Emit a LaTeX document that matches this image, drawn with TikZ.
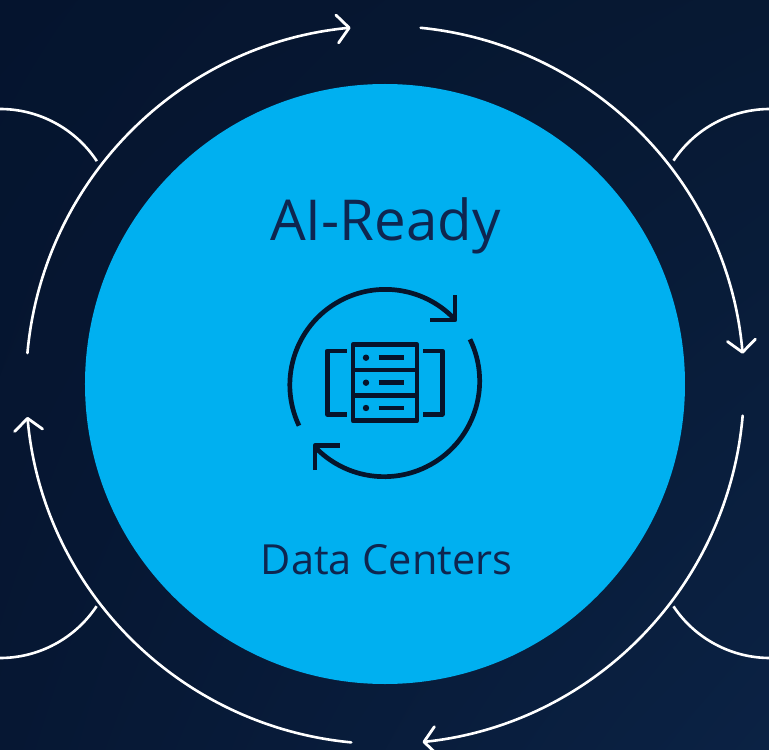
\documentclass[tikz,border=0pt]{standalone}
\usepackage{fontspec}
\setmainfont{Open Sans}
\usetikzlibrary{arrows.meta,shadings}
\definecolor{bgUL}{HTML}{05142E}
\definecolor{bgUR}{HTML}{071933}
\definecolor{bgLL}{HTML}{061733}
\definecolor{bgLR}{HTML}{0B2244}
\definecolor{hub}{HTML}{00B0F0}
\definecolor{hubtext}{HTML}{0E2650}
\definecolor{icon}{HTML}{06142B}
\tikzset{
  ring/.style={draw=white,line width=2.6pt,line cap=round},
  ringarrow/.style={ring,-{Straight Barb[length=12pt,width=28pt,line width=2.8pt,round]}},
  iconline/.style={draw=icon,line width=4.7pt,line join=round},
  hublabel/.style={inner sep=0pt,text=hubtext,anchor=base}
}
\begin{document}
\begin{tikzpicture}[x=1pt,y=1pt]
\useasboundingbox (-385,-365) rectangle (384,385);
\shade[upper left=bgUL,upper right=bgUR,lower left=bgLL,lower right=bgLR] (-385,-365) rectangle (384,385);
\fill[hub] (0,1) circle[radius=300];
% outer ring
\draw[ringarrow] (84.3:359) arc[start angle=84.3,end angle=5.0,radius=359];
\draw[ringarrow] (-4.9:359) arc[start angle=-4.9,end angle=-84.0,radius=359];
\draw[ringarrow] (-95.4:359) arc[start angle=-95.4,end angle=-174.9,radius=359];
\draw[ringarrow] (174.9:359) arc[start angle=174.9,end angle=95.5,radius=359];
% side arcs
\draw[ring,line cap=butt] (-385,276) arc[start angle=90,end angle=33.4,radius=116];
\draw[ring,line cap=butt] (-385,-273) arc[start angle=-90,end angle=-33.6,radius=116];
\draw[ring,line cap=butt] (385,276) arc[start angle=90,end angle=146.3,radius=116];
\draw[ring,line cap=butt] (385,-273) arc[start angle=-90,end angle=-146.3,radius=116];
% labels
\node[hublabel,font=\fontsize{56.4}{56.4}\selectfont] (title) at (0.5,144) {AI-Ready};
\node[hublabel,font=\fontsize{41.5}{41.5}\selectfont] (subtitle) at (1.5,-189) {Data Centers};
% icon: cycle arrows
\draw[iconline,line cap=butt] (-86,-40.7) arc[start angle=205.3,end angle=44.5,radius=95.5];
\draw[iconline,line cap=butt] (85,45.7) arc[start angle=26,end angle=-136,radius=95.5];
\draw[iconline] (70,90) -- (70,65) -- (45,65);
\draw[iconline] (-70,-85) -- (-70,-60.7) -- (-45,-60.7);
% icon: server
\draw[iconline] (-32,40.3) rectangle (32,-35.7);
\draw[iconline] (-32,15) -- (32,15);
\draw[iconline] (-32,-10.3) -- (32,-10.3);
\fill[icon] (-19,27.3) circle[radius=3.2];
\fill[icon] (-19,2.3) circle[radius=3.2];
\fill[icon] (-19,-23) circle[radius=3.2];
\draw[iconline] (-6.3,27.3) -- (19,27.3);
\draw[iconline] (-6.3,2.3) -- (19,2.3);
\draw[iconline] (-6.3,-23) -- (19,-23);
\draw[iconline] (-38.3,34) -- (-57.7,34) -- (-57.7,-29.3) -- (-38.3,-29.3);
\draw[iconline] (38.3,34) -- (57.3,34) -- (57.3,-29.3) -- (38.3,-29.3);
\end{tikzpicture}
\end{document}
